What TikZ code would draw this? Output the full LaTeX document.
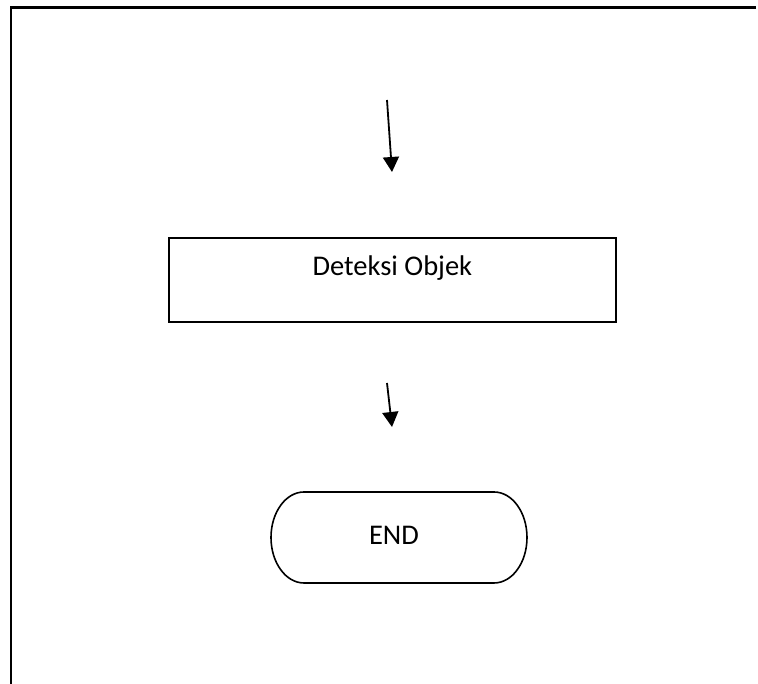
\documentclass[tikz,border=0pt]{standalone}
\usepackage{fontspec}
\setmainfont{Carlito}
\usetikzlibrary{arrows.meta}
\begin{document}
\begin{tikzpicture}[x=1pt,y=1pt,
  frameline/.style={line width=2.2pt},
  procbox/.style={draw, line width=1.8pt, minimum width=447pt, inner xsep=0pt, inner ysep=0pt,
    text height=38pt, text depth=46pt, font=\fontsize{28.5}{34}\selectfont},
  endlabel/.style={font=\fontsize{28.5}{34}\selectfont, inner sep=0pt},
  flowarrow/.style={line width=1.8pt, -{Triangle[width=16pt,length=15pt]}},
  termline/.style={line width=1.6pt}]
\useasboundingbox (0,0) rectangle (758,684);
% outer frame (top and left sides only)
\coordinate (ftl) at (11,676.5);
\coordinate (ftr) at (756,676.5);
\coordinate (fbl) at (11,0);
\draw[frameline] (ftr) -- (ftl) -- (fbl);
% arrow 1
\coordinate (a1s) at (387,584);
\coordinate (a1e) at (392,512);
\draw[flowarrow] (a1s) -- (a1e);
% process box
\node[procbox, anchor=north west] (det) at (168,447) {Deteksi Objek};
% arrow 2
\coordinate (a2s) at (387,301);
\coordinate (a2e) at (392,257);
\draw[flowarrow] (a2s) -- (a2e);
% terminator
\node[endlabel] (end) at (394,149) {END};
\draw[termline] (304,192) -- (494,192)
  arc[start angle=90, end angle=-90, x radius=33, y radius=45.5]
  -- (304,101)
  arc[start angle=270, end angle=90, x radius=33, y radius=45.5] -- cycle;
\end{tikzpicture}
\end{document}
